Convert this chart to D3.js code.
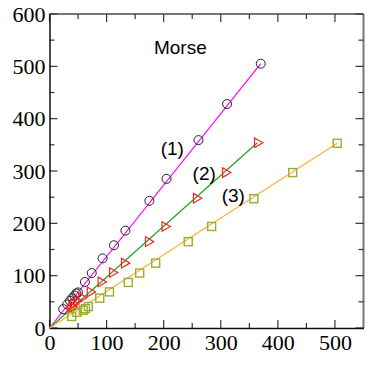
<!DOCTYPE html>
<html>
<head>
<meta charset="utf-8">
<script src="https://cdn.jsdelivr.net/npm/d3@7"></script>
<style>
  body { margin: 0; background: #fff; }
  svg { display: block; }
</style>
</head>
<body>
<div id="canvas"></div>
<script>
"use strict"

/* Data: [x, y] */
let circles1 = [
  [24, 36], [31, 45], [36, 52], [40, 57], [44, 62], [47, 66], [50, 68],
  [62, 88], [74, 105], [93, 133], [113, 158], [133, 186], [175, 243],
  [205, 285], [261, 359], [311, 428], [370, 505]
];
let triangles2 = [
  [36, 36], [39, 40], [42, 46], [48, 52], [56, 58], [71, 69], [90, 88],
  [110, 106], [131, 124], [173, 165], [202, 194], [257, 248], [308, 297],
  [364, 354]
];
let squares3 = [
  [39, 22], [48, 30], [59, 34], [63, 37], [68, 41], [88, 57], [105, 69],
  [138, 87], [158, 105], [186, 124], [243, 165], [284, 194], [358, 247],
  [426, 297], [504, 353]
];
// straight fits through the origin
let fit1 = [[0, 0], [370, 505]];
let fit2 = [[0, 0], [364, 354]];
let fit3 = [[0, 0], [504, 353]];

let xTicks = [0, 100, 200, 300, 400, 500];
let yTicks = [0, 100, 200, 300, 400, 500, 600];
let xMinor = [50, 150, 250, 350, 450];
let yMinor = [50, 150, 250, 350, 450, 550];

let labels = [
  { text: "Morse", x: 183, y: 524, anchor: "start" },
  { text: "(1)", x: 215, y: 331, anchor: "middle" },
  { text: "(2)", x: 271, y: 282, anchor: "middle" },
  { text: "(3)", x: 322, y: 241, anchor: "middle" }
];

/* Drawing config */
let svgWidth = 388;
let svgHeight = 379;
let plotLeft = 49.5, plotRight = 363.5, plotTop = 14, plotBottom = 328;

let svg = d3.select("#canvas")
  .append("svg")
  .attr("width", svgWidth)
  .attr("height", svgHeight);

let xScale = d3.scaleLinear().domain([0, 550]).range([plotLeft, plotRight]);
let yScale = d3.scaleLinear().domain([0, 600]).range([plotBottom, plotTop]);

/* frame: top and right drawn gray, as in the picture */
svg.append("line")
  .attr("x1", plotLeft).attr("x2", plotRight).attr("y1", plotTop).attr("y2", plotTop)
  .attr("stroke", "#777").attr("stroke-width", 2);
svg.append("line")
  .attr("x1", plotRight).attr("x2", plotRight).attr("y1", plotTop).attr("y2", plotBottom)
  .attr("stroke", "#777").attr("stroke-width", 2);

/* tick marks, all pointing inward */
function tickLines(g, values, fn) {
  g.append("g").selectAll("line").data(values).join("line")
    .attr("x1", d => fn(d)[0]).attr("y1", d => fn(d)[1])
    .attr("x2", d => fn(d)[2]).attr("y2", d => fn(d)[3])
    .attr("stroke", "#333").attr("stroke-width", 1.2);
}
let ticks = svg.append("g");
tickLines(ticks, xTicks, d => [xScale(d), plotBottom, xScale(d), plotBottom - 8]);
tickLines(ticks, xMinor, d => [xScale(d), plotBottom, xScale(d), plotBottom - 5]);
tickLines(ticks, xTicks, d => [xScale(d), plotTop, xScale(d), plotTop + 8]);
tickLines(ticks, xMinor, d => [xScale(d), plotTop, xScale(d), plotTop + 5]);
tickLines(ticks, yTicks, d => [plotLeft, yScale(d), plotLeft + 8, yScale(d)]);
tickLines(ticks, yMinor, d => [plotLeft, yScale(d), plotLeft + 5, yScale(d)]);
tickLines(ticks, yTicks, d => [plotRight, yScale(d), plotRight - 8, yScale(d)]);
tickLines(ticks, yMinor, d => [plotRight, yScale(d), plotRight - 5, yScale(d)]);

/* bottom and left axes with tick labels */
let xAxis = svg.append("g")
  .attr("transform", "translate(0," + plotBottom + ")")
  .call(d3.axisBottom(xScale).tickValues(xTicks).tickSize(0).tickPadding(5));
let yAxis = svg.append("g")
  .attr("transform", "translate(" + plotLeft + ",0)")
  .call(d3.axisLeft(yScale).tickValues(yTicks).tickSize(0).tickPadding(4));
[xAxis, yAxis].forEach(function (g) {
  g.attr("font-family", null).attr("font-size", null);
  g.select(".domain").attr("stroke", "#111").attr("stroke-width", 1.5);
  g.selectAll("text")
    .attr("fill", "#000")
    .style("font-family", "'Liberation Serif'")
    .style("font-size", "22px");
});
yAxis.selectAll("text").attr("dy", "0.33em");
xAxis.selectAll("text").attr("dy", "0.75em");

/* fit lines */
let line = d3.line().x(d => xScale(d[0])).y(d => yScale(d[1]));
let fits = [[fit1, "#ff00ff"], [fit2, "#22a022"], [fit3, "#ffb030"]];
fits.forEach(function (f) {
  svg.append("path")
    .attr("d", line(f[0]))
    .attr("fill", "none")
    .attr("stroke", f[1])
    .attr("stroke-width", 1.2);
});

/* markers */
svg.append("g").selectAll("circle")
  .data(circles1)
  .join("circle")
  .attr("cx", d => xScale(d[0]))
  .attr("cy", d => yScale(d[1]))
  .attr("r", 4.5)
  .attr("fill", "none")
  .attr("stroke", "#222")
  .attr("stroke-width", 1);

let triPath = d3.symbol().type(d3.symbolTriangle).size(40);
svg.append("g").selectAll("path")
  .data(triangles2)
  .join("path")
  .attr("d", triPath)
  .attr("transform", d => "translate(" + xScale(d[0]) + "," + yScale(d[1]) + ") rotate(90)")
  .attr("fill", "none")
  .attr("stroke", "#ff2020")
  .attr("stroke-width", 1.2);

svg.append("g").selectAll("rect")
  .data(squares3)
  .join("rect")
  .attr("x", d => xScale(d[0]) - 4)
  .attr("y", d => yScale(d[1]) - 4)
  .attr("width", 8)
  .attr("height", 8)
  .attr("fill", "none")
  .attr("stroke", "#99ad33")
  .attr("stroke-width", 1.4);

/* annotations */
svg.append("g").selectAll("text")
  .data(labels)
  .join("text")
  .attr("x", d => xScale(d.x))
  .attr("y", d => yScale(d.y))
  .attr("text-anchor", d => d.anchor)
  .style("font-family", "'Liberation Sans'")
  .style("font-size", "19px")
  .attr("fill", "#000")
  .text(d => d.text);
</script>
</body>
</html>
